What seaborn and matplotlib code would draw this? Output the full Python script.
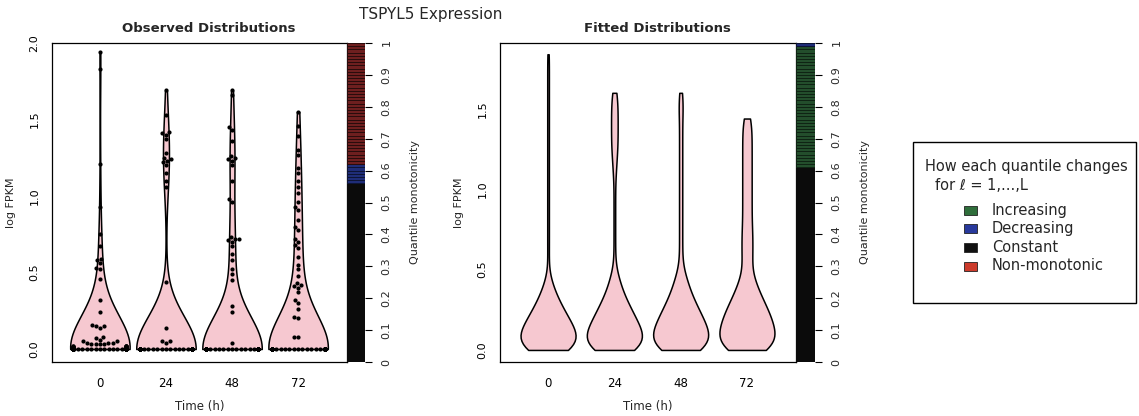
import warnings
import numpy as np
import pandas as pd
import matplotlib
matplotlib.use("Agg")
import matplotlib.pyplot as plt
import seaborn as sns
from matplotlib.patches import Rectangle

warnings.filterwarnings("ignore")

# ---------------- data ----------------
times = ["0", "24", "48", "72"]

# observed log FPKM values (non-zero cells) read from the swarm points
obs_0 = [1.94, 1.83, 1.21, 0.93, 0.75, 0.67, 0.59, 0.58, 0.56, 0.53, 0.52, 0.46,
         0.32, 0.24, 0.16, 0.15, 0.15, 0.14, 0.08, 0.07, 0.06, 0.05, 0.05, 0.04,
         0.04, 0.04, 0.03, 0.03, 0.03, 0.03, 0.02, 0.02, 0.02, 0.02, 0.02, 0.02,
         0.01, 0.01, 0.01, 0.01, 0.01, 0.01, 0.01]
obs_24 = [1.69, 1.53, 1.42, 1.41, 1.40, 1.37, 1.28, 1.25, 1.24, 1.23, 1.22, 1.20,
          1.15, 1.10, 1.06, 0.44, 0.14, 0.05, 0.05, 0.04]
obs_48 = [1.69, 1.66, 1.45, 1.43, 1.36, 1.26, 1.25, 1.24, 1.23, 1.20, 1.10, 0.98,
          0.96, 0.73, 0.72, 0.72, 0.71, 0.70, 0.67, 0.62, 0.58, 0.52, 0.49, 0.45,
          0.28, 0.24, 0.04]
obs_72 = [1.55, 1.46, 1.39, 1.30, 1.27, 1.18, 1.15, 1.10, 1.06, 1.02, 0.96, 0.93,
          0.91, 0.84, 0.80, 0.78, 0.72, 0.70, 0.68, 0.66, 0.60, 0.55, 0.52, 0.48,
          0.43, 0.42, 0.41, 0.40, 0.37, 0.32, 0.30, 0.26, 0.21, 0.20, 0.08, 0.08]
# number of cells with zero expression at each time point
obs_zero_counts = [105, 115, 110, 100]

# fitted distributions: values (log FPKM) and how much mass sits at each value
fit_values_0 = [0.00, 0.04, 0.08, 0.12, 0.16, 0.20, 0.24, 0.28, 0.32, 0.36, 0.40, 0.44,
                0.56, 0.64, 0.72, 0.80, 0.88, 0.96, 1.04, 1.12, 1.20, 1.28, 1.36,
                1.44, 1.52, 1.60, 1.68, 1.76, 1.84]
fit_counts_0 = [20, 20, 18, 17, 15, 12, 10, 8, 6, 4, 3, 2,
                1, 1, 1, 1, 1, 1, 1, 1, 1, 1, 1, 1, 1, 1, 1, 1, 1]
fit_values_24 = [0.00, 0.04, 0.08, 0.12, 0.16, 0.20, 0.24, 0.28, 0.32, 0.36, 0.40, 0.44,
                 0.48, 0.56, 0.64, 0.72, 0.80, 0.88, 0.96, 1.04, 1.12, 1.20, 1.28,
                 1.36, 1.44, 1.52, 1.60]
fit_counts_24 = [20, 20, 19, 17, 15, 13, 11, 9, 7, 5, 4, 3,
                 2, 1, 1, 1, 1, 1, 1, 1, 2, 3, 4, 4, 4, 4, 3]
fit_values_48 = [0.00, 0.04, 0.08, 0.12, 0.16, 0.20, 0.24, 0.28, 0.32, 0.36, 0.40, 0.44,
                 0.48, 0.56, 0.64, 0.72, 0.80, 0.88, 0.96, 1.04, 1.12, 1.20, 1.28,
                 1.36, 1.44, 1.52, 1.60]
fit_counts_48 = [20, 20, 19, 18, 16, 14, 12, 10, 8, 6, 5, 4,
                 3, 2, 2, 2, 2, 2, 2, 2, 2, 2, 2, 2, 2, 3, 2]
fit_values_72 = [0.00, 0.04, 0.08, 0.12, 0.16, 0.20, 0.24, 0.28, 0.32, 0.36, 0.40, 0.44,
                 0.48, 0.56, 0.64, 0.72, 0.80, 0.88, 0.96, 1.04, 1.12, 1.20, 1.28,
                 1.36, 1.44]
fit_counts_72 = [20, 20, 19, 18, 17, 16, 14, 12, 10, 8, 6, 5,
                 4, 7, 7, 7, 6, 6, 6, 6, 6, 6, 6, 6, 5]

# quantile monotonicity classes (runs from the lowest quantile upward, 100 levels)
obs_monotonicity = [("Constant", 56), ("Decreasing", 6), ("Non-monotonic", 38)]
fit_monotonicity = [("Constant", 61), ("Increasing", 38), ("Decreasing", 1)]

legend_labels = ["Increasing", "Decreasing", "Constant", "Non-monotonic"]

yticks_obs = [0.0, 0.5, 1.0, 1.5, 2.0]
yticks_fit = [0.0, 0.5, 1.0, 1.5]
cbar_ticks = [0.0, 0.1, 0.2, 0.3, 0.4, 0.5, 0.6, 0.7, 0.8, 0.9, 1.0]
cbar_ticklabels = ["0", "0.1", "0.2", "0.3", "0.4", "0.5", "0.6", "0.7", "0.8", "0.9", "1"]

# ---------------- style ----------------
class_colors = {"Increasing": "#2f6e3b", "Decreasing": "#28399c",
                "Constant": "#111111", "Non-monotonic": "#cc3b2b"}
cbar_face = {"Increasing": "#234e2c", "Decreasing": "#1f2d78",
             "Constant": "#0b0b0b", "Non-monotonic": "#6e1f1f"}
cbar_edge = {"Increasing": "#0f2414", "Decreasing": "#0d1436",
             "Constant": "#0b0b0b", "Non-monotonic": "#2a0c0c"}
violin_fill = "#f6c8d0"

sns.set_style("white")
plt.rcParams["font.family"] = ["DejaVu Sans"]

W, H = 1139, 416
fig = plt.figure(figsize=(W / 100, H / 100), dpi=100)


def fx(px):
    return px / W


def fy(py):
    return 1 - py / H


def abs_bw(target):
    # kernel bandwidth in data units (log FPKM)
    return lambda kde: target / np.std(kde.dataset, ddof=1)


obs_groups = [obs_0, obs_24, obs_48, obs_72]
obs_t, obs_v = [], []
for t, vals, nz in zip(times, obs_groups, obs_zero_counts):
    v = list(vals) + [0.0] * nz
    obs_t += [t] * len(v)
    obs_v += v
obs_df = pd.DataFrame({"time": obs_t, "value": obs_v})

fit_groups = [(fit_values_0, fit_counts_0), (fit_values_24, fit_counts_24),
              (fit_values_48, fit_counts_48), (fit_values_72, fit_counts_72)]
fit_t, fit_v = [], []
for t, (vals, cnts) in zip(times, fit_groups):
    v = list(np.repeat(vals, cnts))
    fit_t += [t] * len(v)
    fit_v += v
fit_df = pd.DataFrame({"time": fit_t, "value": fit_v})


def style_main(ax, ylim, yticks):
    ax.set_xlim(-0.725, 3.74)
    ax.set_ylim(*ylim)
    ax.set_yticks(yticks)
    ax.set_yticklabels([f"{v:.1f}" for v in yticks])
    ax.set_xticks(range(len(times)))
    ax.set_xticklabels(times)
    ax.tick_params(axis="both", direction="out", length=4, width=0.8,
                   color="black", labelcolor="black")
    ax.tick_params(axis="x", labelsize=8.5, pad=7)
    ax.tick_params(axis="y", labelsize=8, pad=5, labelrotation=90)
    plt.setp(ax.get_yticklabels(), va="center")
    for s in ax.spines.values():
        s.set_visible(True)
        s.set_color("black")
        s.set_linewidth(0.9)
    ax.set_xlabel("Time (h)", fontsize=8.5, labelpad=7)
    ax.set_ylabel("log FPKM", fontsize=8, labelpad=10)


def draw_cbar(cax, runs):
    classes = []
    for name, n in runs:
        classes += [name] * n
    step = 1.0 / len(classes)
    for i, c in enumerate(classes):
        cax.bar(0.5, step, bottom=i * step, width=1.0, color=cbar_face[c],
                edgecolor=cbar_edge[c], linewidth=0.6, antialiased=False)
    cax.set_xlim(0, 1)
    cax.set_ylim(0, 1)
    cax.set_xticks([])
    cax.yaxis.tick_right()
    cax.yaxis.set_label_position("right")
    cax.set_yticks(cbar_ticks)
    cax.set_yticklabels(cbar_ticklabels)
    cax.tick_params(axis="y", direction="out", length=5, width=0.8, labelsize=8,
                    pad=7, labelrotation=90, color="black")
    plt.setp(cax.get_yticklabels(), va="center")
    for s in cax.spines.values():
        s.set_visible(False)
    cax.set_ylabel("Quantile monotonicity", fontsize=8, labelpad=13, rotation=90)


# ---------------- observed panel ----------------
ax1 = fig.add_axes([fx(52), fy(362), fx(347) - fx(52), fy(43) - fy(362)])
sns.violinplot(data=obs_df, x="time", y="value", order=times, color=violin_fill,
               saturation=1, inner=None, cut=0, density_norm="width", width=0.9,
               linewidth=1.1, linecolor="black", bw_method=abs_bw(0.21), ax=ax1)
sns.swarmplot(data=obs_df, x="time", y="value", order=times, color="black",
              size=3.0, ax=ax1, zorder=3)
style_main(ax1, (-0.085, 2.0), yticks_obs)
cax1 = fig.add_axes([fx(347), fy(362), fx(365) - fx(347), fy(43) - fy(362)])
draw_cbar(cax1, obs_monotonicity)

# ---------------- fitted panel ----------------
ax2 = fig.add_axes([fx(500), fy(362), fx(796) - fx(500), fy(43) - fy(362)])
sns.violinplot(data=fit_df, x="time", y="value", order=times, color=violin_fill,
               saturation=1, inner=None, cut=0, density_norm="width", width=0.83,
               linewidth=1.1, linecolor="black", bw_method=abs_bw(0.07), ax=ax2)
style_main(ax2, (-0.075, 1.91), yticks_fit)
cax2 = fig.add_axes([fx(796), fy(362), fx(815) - fx(796), fy(43) - fy(362)])
draw_cbar(cax2, fit_monotonicity)

# ---------------- titles ----------------
fig.text(fx(431), fy(14), "TSPYL5 Expression", ha="center", va="center", fontsize=11)
fig.text(fx(209), fy(28), "Observed Distributions", ha="center", va="center",
         fontsize=9.5, fontweight="bold")
fig.text(fx(657), fy(29), "Fitted Distributions", ha="center", va="center",
         fontsize=9.5, fontweight="bold")

# ---------------- legend ----------------
fig.patches.append(Rectangle((fx(913), fy(303)), fx(1136) - fx(913), fy(142) - fy(303),
                             transform=fig.transFigure, facecolor="white",
                             edgecolor="black", linewidth=1.0))
fig.text(fx(925), fy(167), "How each quantile changes", ha="left", va="center", fontsize=10.5)
fig.text(fx(935), fy(185), "for \u2113 = 1,...,L", ha="left", va="center", fontsize=10.5)
row_y = [210, 228, 247, 266]
for lab, yy in zip(legend_labels, row_y):
    fig.patches.append(Rectangle((fx(964), fy(yy + 5)), fx(977) - fx(964), fy(yy - 4) - fy(yy + 5),
                                 transform=fig.transFigure, facecolor=class_colors[lab],
                                 edgecolor="#222222", linewidth=0.6))
    fig.text(fx(992), fy(yy), lab, ha="left", va="center", fontsize=10.5)

fig.savefig("out.png", dpi=100)
